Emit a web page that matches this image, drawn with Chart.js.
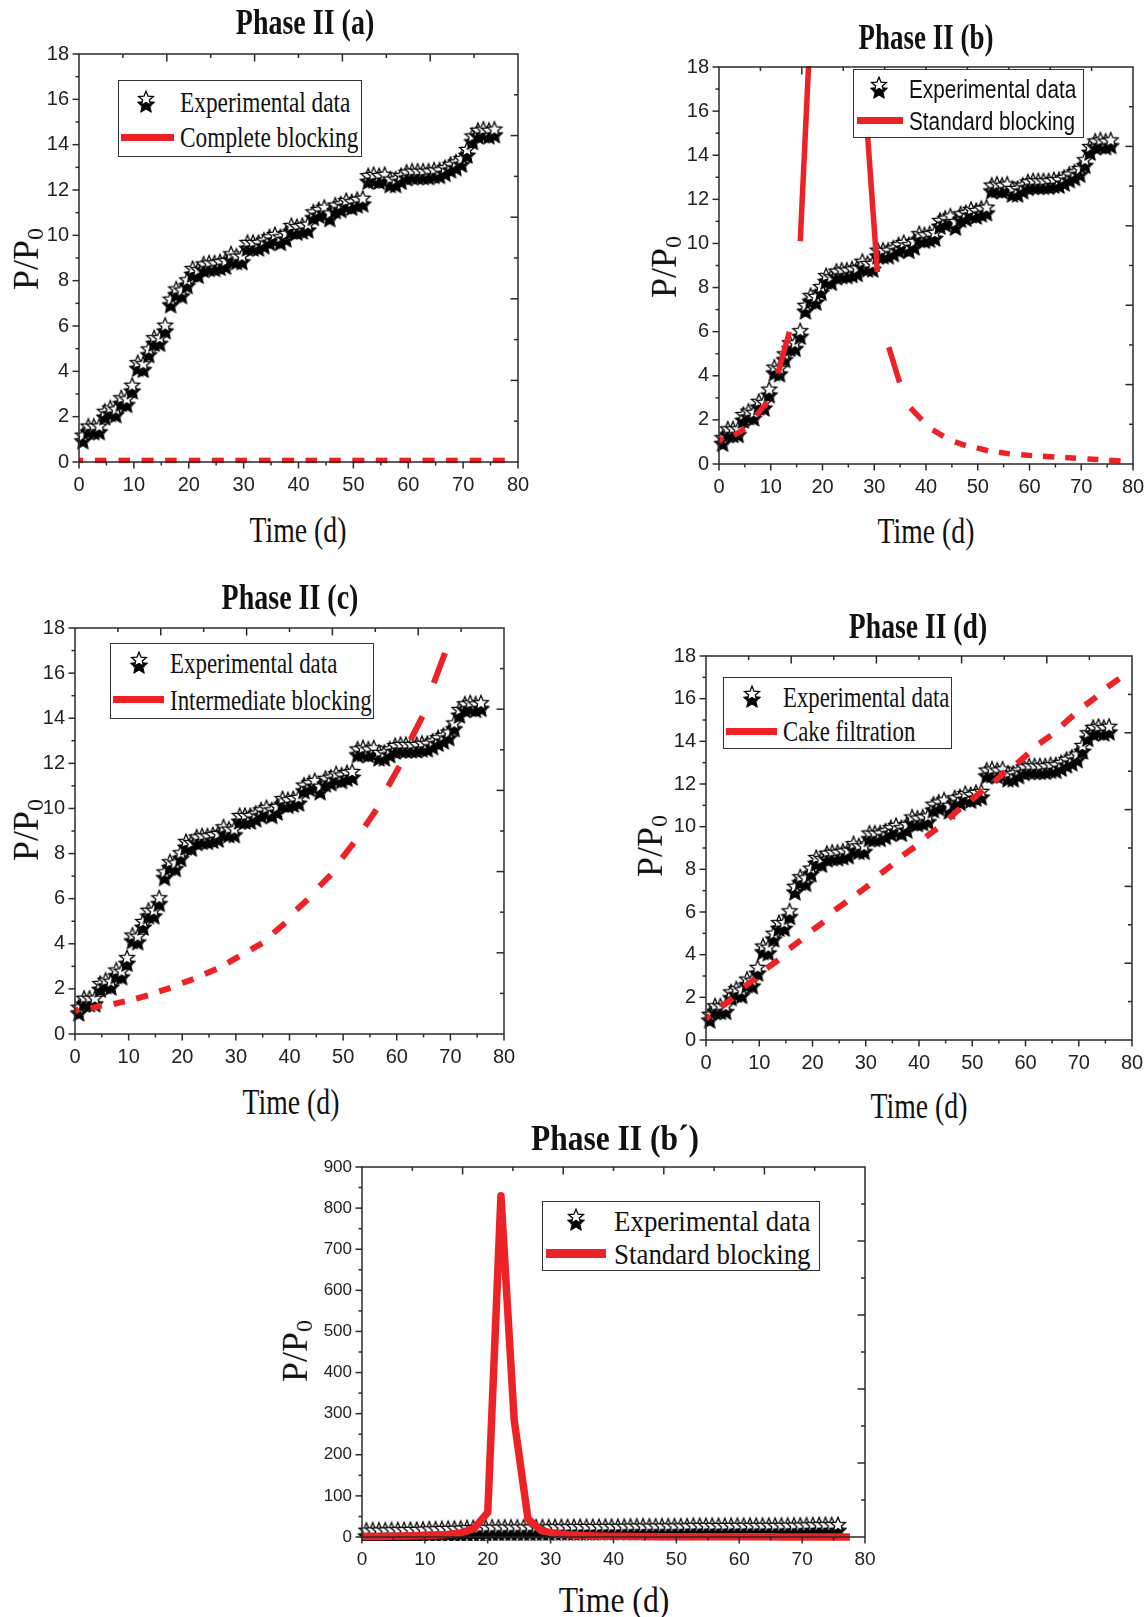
<!DOCTYPE html>
<html>
<head>
<meta charset="utf-8">
<script src="https://cdn.jsdelivr.net/npm/chart.js@4.4.0/dist/chart.umd.min.js"></script>
<style>
  body { margin: 0; background: #fff; width: 1146px; height: 1617px; position: relative; overflow: hidden; }
  canvas.plot { position: absolute; }
  .ov { position: absolute; white-space: nowrap; line-height: 1; color: #111; }
  .ttl { font: bold 35px 'Liberation Serif', 'Times New Roman', serif; }
  .xlab { font: 36px 'Liberation Serif', 'Times New Roman', serif; }
  .ylab { font: 36px 'Liberation Serif', 'Times New Roman', serif; transform: translate(-50%, -50%) rotate(-90deg); }
  .ylab sub { font-size: 24px; vertical-align: -0.22em; }
  .lgbox { position: absolute; background: #fff; border: 1.3px solid #333; box-sizing: border-box; }
  .lgline { position: absolute; background: #ec2227; }
  .lgtxt { position: absolute; white-space: nowrap; line-height: 1; color: #111; transform-origin: left center; }
</style>
</head>
<body>
<script>
(function() {
  'use strict';

  const RED = '#ec2227';

  // ── Data ──
  const tDays = [0.7,1.7,2.7,3.7,4.7,5.7,6.7,7.7,8.7,9.7,10.7,11.7,12.7,13.7,14.7,15.7,16.7,17.7,18.7,19.7,
    20.7,21.7,22.7,23.7,24.7,25.7,26.7,27.7,28.7,29.7,30.7,31.7,32.7,33.7,34.7,35.7,36.7,37.7,38.7,39.7,
    40.7,41.7,42.7,43.7,44.7,45.7,46.7,47.7,48.7,49.7,50.7,51.7,52.7,53.7,54.7,55.7,56.7,57.7,58.7,59.7,
    60.7,61.7,62.7,63.7,64.7,65.7,66.7,67.7,68.7,69.7,70.7,71.7,72.7,73.7,74.7,75.7];
  const expVals = [0.9,1.3,1.3,1.3,1.95,2.1,2.05,2.55,2.5,3.1,
    4.1,4.05,4.7,5.2,5.2,5.75,6.9,7.35,7.3,7.75,
    8.25,8.2,8.45,8.5,8.5,8.55,8.6,8.9,8.8,8.8,
    9.4,9.4,9.4,9.5,9.65,9.75,9.65,9.8,10.15,10.1,
    10.15,10.2,10.75,10.85,10.95,10.7,11.05,11.1,11.25,11.2,
    11.3,11.35,12.35,12.4,12.35,12.4,12.2,12.2,12.35,12.5,
    12.55,12.55,12.55,12.55,12.6,12.6,12.7,12.85,12.95,13.1,
    13.5,14.1,14.35,14.4,14.35,14.4];

  // model curves are sampled at the dash ends
  const modelT = [0,0.75,2.9,5.0,7.2,9.3,11.4,13.6,15.7,17.8,20.0,22.1,24.2,26.4,28.5,30.6,32.8,34.9,37.0,39.2,
    41.3,43.4,45.6,47.7,49.8,52.0,54.1,56.2,58.4,60.5,62.6,64.8,66.9,69.0,71.2,73.3,75.4,77.6];
  const completeVals = [0.07,0.07,0.07,0.07,0.07,0.07,0.07,0.07,0.07,0.07,0.07,0.07,0.07,0.07,0.07,0.07,0.07,0.07,0.07,
    0.07,0.07,0.07,0.07,0.07,0.07,0.07,0.07,0.07,0.07,0.07,0.07,0.07,0.07,0.07,0.07,0.07,0.07,0.07];
  const standardVals = [1.0,1.2,1.3,1.6,2.2,2.8,4.1,6.0,10.1,20.5,60,830,285,44,15.6,8.7,5.3,3.7,2.55,2.0,
    1.55,1.25,1.0,0.83,0.73,0.6,0.53,0.46,0.42,0.38,0.35,0.32,0.29,0.26,0.23,0.2,0.17,0.14];
  const intermediateVals = [1.0,1.1,1.15,1.26,1.33,1.45,1.57,1.71,1.89,2.04,2.26,2.44,2.66,2.88,3.15,3.44,3.74,
    4.03,4.48,4.92,5.51,5.96,6.55,7.06,7.8,8.47,9.21,9.95,10.98,11.87,13.05,14.08,15.56,16.89];
  const cakeVals = [1.0,1.15,1.56,1.95,2.5,2.89,3.36,3.75,4.29,4.68,5.15,5.54,6.09,6.48,6.87,7.26,7.8,8.2,8.66,
    9.05,9.52,9.91,10.38,10.85,11.24,11.71,12.1,12.57,12.96,13.42,13.9,14.28,14.75,15.22,15.69,16.08,16.55,16.94];

  const xTickVals = [0,10,20,30,40,50,60,70,80];
  const yTickVals = [0,2,4,6,8,10,12,14,16,18];
  const yTickValsBig = [0,100,200,300,400,500,600,700,800,900];

  // ── Helpers ──
  function starPath(g, cx, cy, R, r) {
    g.beginPath();
    for (let k = 0; k < 10; k++) {
      const rad = k % 2 ? r : R;
      const a = -Math.PI / 2 + k * Math.PI / 5;
      g.lineTo(cx + rad * Math.cos(a), cy + rad * Math.sin(a));
    }
    g.closePath();
  }

  // black star with an open star sitting above it
  function makeStar() {
    const c = document.createElement('canvas');
    c.width = 22; c.height = 38;
    const g = c.getContext('2d');
    starPath(g, 11, 19, 9, 4.1);
    g.fillStyle = '#000'; g.fill();
    g.lineWidth = 1; g.strokeStyle = '#000'; g.stroke();
    starPath(g, 11, 13, 7.8, 3.5);
    g.fillStyle = '#fff'; g.fill();
    g.lineWidth = 1.3; g.stroke();
    return c;
  }
  const starImg = makeStar();

  function pts(xs, ys) { return ys.map(function(v, i) { return { x: xs[i], y: v }; }); }

  function div(cls, html, css) {
    const d = document.createElement('div');
    d.className = cls;
    d.innerHTML = html;
    Object.assign(d.style, css);
    document.body.appendChild(d);
    return d;
  }

  // ── Frame with minor ticks (outside on left/bottom, inside on top/right) ──
  const framePlugin = {
    id: 'frame',
    afterDatasetsDraw(chart) {
      const ctx = chart.ctx, a = chart.chartArea, x = chart.scales.x, y = chart.scales.y;
      const o = chart.options.plugins.frame;
      ctx.save();
      ctx.strokeStyle = '#2a2a2a';
      ctx.lineWidth = 1.5;
      ctx.strokeRect(a.left, a.top, a.right - a.left, a.bottom - a.top);
      function tick(x1, y1, x2, y2) { ctx.beginPath(); ctx.moveTo(x1, y1); ctx.lineTo(x2, y2); ctx.stroke(); }
      let n = Math.round((x.max - x.min) / o.xMinor);
      for (let k = 0; k <= n; k++) {
        const px = x.getPixelForValue(x.min + k * o.xMinor);
        tick(px, a.bottom, px, a.bottom + (k % 2 ? 3.5 : 6.5));
      }
      n = Math.round((y.max - y.min) / o.yMinor);
      for (let k = 0; k <= n; k++) {
        const py = y.getPixelForValue(y.min + k * o.yMinor);
        tick(a.left, py, a.left - (k % 2 ? 3.5 : 6.5), py);
      }
      for (let k = 1; k < 10; k++) {
        const px = x.getPixelForValue(x.min + k * (x.max - x.min) / 10);
        tick(px, a.top, px, a.top + (k % 2 ? 4 : 7.5));
        const py = y.getPixelForValue(y.min + k * (y.max - y.min) / 10);
        tick(a.right, py, a.right - (k % 2 ? 4 : 7.5), py);
      }
      ctx.restore();
    }
  };

  // ── Panels ──
  const PADL = 60, PADT = 14, PADR = 24, PADB = 40;
  const panels = [
    { box: [79, 54, 518, 462], title: 'Phase II (a)', titleAt: [305, 23], tsx: 0.8, xlabAt: [298, 530], xsx: 0.77, ylabAt: [27, 259],
      yTicks: yTickVals, yMinor: 1, tickSize: 20, xTickSize: 20, model: completeVals, dashed: true, lw: 5.5,
      legend: { box: [118, 80, 362, 157], star: [146, 102], line: [121, 174, 137, 7], textX: 180, rows: [102, 137],
        labels: ['Experimental data', 'Complete blocking'], font: "29px 'Liberation Serif', serif", sx: 0.805 } },
    { box: [719, 67, 1133, 464], title: 'Phase II (b)', titleAt: [926, 38], tsx: 0.77, xlabAt: [926, 531], xsx: 0.77, ylabAt: [665, 267],
      yTicks: yTickVals, yMinor: 1, tickSize: 20, xTickSize: 20, model: standardVals, dashed: true, lw: 5.5,
      legend: { box: [853, 69, 1084, 138], star: [879, 88], line: [857, 903, 120, 7], textX: 909, rows: [89, 121],
        labels: ['Experimental data', 'Standard blocking'], font: "25px 'Liberation Sans', sans-serif", sx: 0.83 } },
    { box: [75, 628, 504, 1034], title: 'Phase II (c)', titleAt: [290, 598], tsx: 0.8, xlabAt: [291, 1102], xsx: 0.77, ylabAt: [27, 830],
      yTicks: yTickVals, yMinor: 1, tickSize: 20, xTickSize: 20, model: intermediateVals, dashed: true, lw: 6,
      legend: { box: [110, 643, 374, 719], star: [139, 663], line: [113, 164, 699, 7], textX: 170, rows: [663, 700],
        labels: ['Experimental data', 'Intermediate blocking'], font: "29px 'Liberation Serif', serif", sx: 0.79 } },
    { box: [706, 656, 1132, 1040], title: 'Phase II (d)', titleAt: [918, 627], tsx: 0.79, xlabAt: [919, 1106], xsx: 0.77, ylabAt: [651, 846],
      yTicks: yTickVals, yMinor: 1, tickSize: 20, xTickSize: 20, model: cakeVals, dashed: true, lw: 6,
      legend: { box: [723, 677, 952, 749], star: [752, 697], line: [726, 777, 731, 7], textX: 783, rows: [697, 731],
        labels: ['Experimental data', 'Cake filtration'], font: "29px 'Liberation Serif', serif", sx: 0.786 } },
    { box: [362, 1167, 865, 1537], title: 'Phase II (b\u00b4)', titleAt: [615, 1139], tsx: 0.9, xlabAt: [614, 1600], xsx: 0.88, ylabAt: [296, 1351],
      yTicks: yTickValsBig, yMinor: 50, tickSize: 17, xTickSize: 19, model: standardVals, dashed: false, lw: 7.5,
      legend: { box: [542, 1201, 820, 1271], star: [576, 1220], line: [546, 606, 1253, 9], textX: 614, rows: [1221, 1254],
        labels: ['Experimental data', 'Standard blocking'], font: "30px 'Liberation Serif', serif", sx: 0.897 } }
  ];

  function buildPanel(p) {
    const l = p.box[0], t = p.box[1], r = p.box[2], b = p.box[3];
    const W = r - l + PADL + PADR, H = b - t + PADT + PADB;
    const cv = document.createElement('canvas');
    cv.className = 'plot';
    cv.width = W; cv.height = H;
    cv.style.left = (l - PADL) + 'px'; cv.style.top = (t - PADT) + 'px';
    cv.style.width = W + 'px'; cv.style.height = H + 'px';
    document.body.appendChild(cv);

    const fam = "'Liberation Sans Narrow', 'Liberation Sans', sans-serif";
    const yTicks = p.yTicks;

    new Chart(cv, {
      type: 'scatter',
      data: {
        datasets: [
          {
            data: pts(modelT, p.model),
            showLine: true, pointRadius: 0, borderWidth: p.lw, borderColor: RED,
            borderCapStyle: 'butt', borderJoinStyle: p.dashed ? 'miter' : 'round', tension: 0,
            segment: p.dashed ? { borderColor: function(c) { return c.p0DataIndex % 2 === 0 ? RED : 'rgba(0,0,0,0)'; } } : undefined,
            clip: { left: 6, top: 1, right: 6, bottom: 6 },
            order: 0
          },
          {
            data: pts(tDays, expVals),
            showLine: false, pointStyle: starImg, pointRadius: 10,
            clip: { left: 12, top: 14, right: 12, bottom: 4 },
            order: 1
          }
        ]
      },
      options: {
        responsive: false, animation: false, devicePixelRatio: 1,
        layout: { padding: { left: 0, top: PADT, right: PADR, bottom: 0 } },
        events: [],
        plugins: {
          legend: { display: false }, tooltip: { enabled: false },
          frame: { xMinor: 5, yMinor: p.yMinor }
        },
        scales: {
          x: {
            type: 'linear', min: 0, max: 80,
            afterBuildTicks: function(s) { s.ticks = xTickVals.map(function(v) { return { value: v }; }); },
            afterFit: function(s) { s.height = PADB; s.paddingLeft = 0; s.paddingRight = 0; },
            ticks: { font: { family: fam, size: p.xTickSize }, color: '#222', padding: 11, maxRotation: 0, autoSkip: false },
            grid: { display: false, drawTicks: false }, border: { display: false }
          },
          y: {
            type: 'linear', min: 0, max: yTicks[yTicks.length - 1],
            afterBuildTicks: function(s) { s.ticks = yTicks.map(function(v) { return { value: v }; }); },
            afterFit: function(s) { s.width = PADL; s.paddingTop = 0; s.paddingBottom = 0; },
            ticks: { font: { family: fam, size: p.tickSize }, color: '#222', padding: 10, autoSkip: false },
            grid: { display: false, drawTicks: false }, border: { display: false }
          }
        }
      },
      plugins: [framePlugin]
    });

    // titles and axis labels
    div('ov ttl', p.title, { left: p.titleAt[0] + 'px', top: p.titleAt[1] + 'px', transform: 'translate(-50%, -50%) scaleX(' + p.tsx + ')' });
    div('ov xlab', 'Time (d)', { left: p.xlabAt[0] + 'px', top: p.xlabAt[1] + 'px', transform: 'translate(-50%, -50%) scaleX(' + p.xsx + ')' });
    div('ov ylab', 'P/P<sub>0</sub>', { left: p.ylabAt[0] + 'px', top: p.ylabAt[1] + 'px' });

    // legend box inside the plot
    const lg = p.legend;
    div('lgbox', '', { left: lg.box[0] + 'px', top: lg.box[1] + 'px', width: (lg.box[2] - lg.box[0]) + 'px', height: (lg.box[3] - lg.box[1]) + 'px' });
    const s = makeStar();
    s.style.position = 'absolute';
    s.style.left = (lg.star[0] - 11) + 'px';
    s.style.top = (lg.star[1] - 16) + 'px';
    document.body.appendChild(s);
    div('lgline', '', { left: lg.line[0] + 'px', top: (lg.line[2] - lg.line[3] / 2) + 'px', width: (lg.line[1] - lg.line[0]) + 'px', height: lg.line[3] + 'px' });
    lg.labels.forEach(function(txt, i) {
      div('lgtxt', txt, { left: lg.textX + 'px', top: lg.rows[i] + 'px', font: lg.font, transform: 'translateY(-50%) scaleX(' + lg.sx + ')' });
    });
  }

  panels.forEach(buildPanel);
})();
</script>
</body>
</html>
